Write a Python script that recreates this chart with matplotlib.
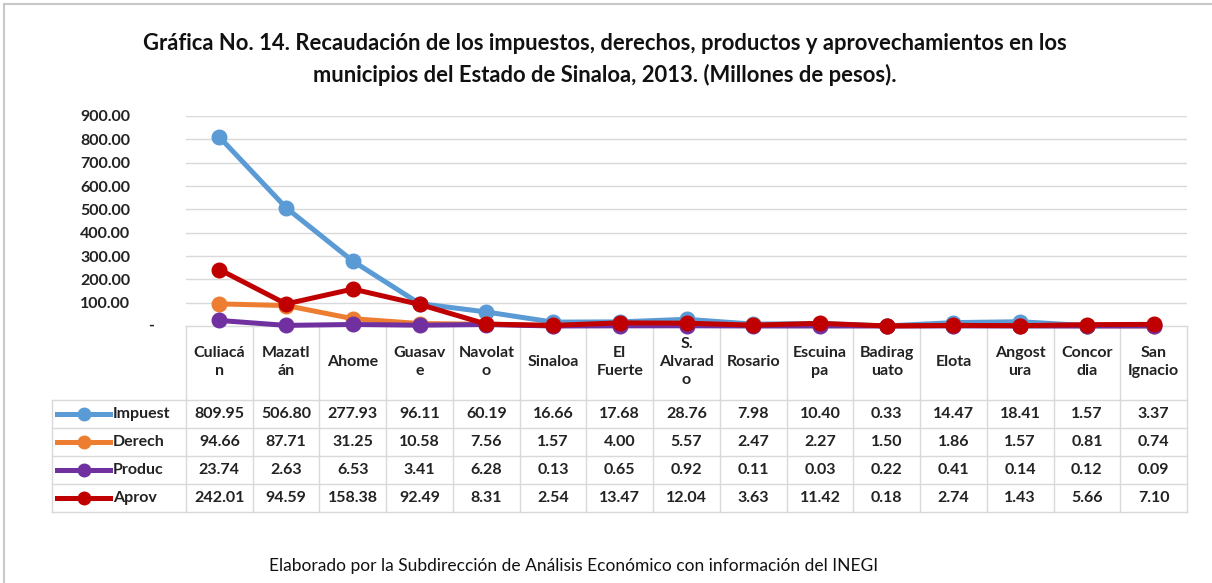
import matplotlib.pyplot as plt
import matplotlib.transforms as mtransforms

# datos
municipios = ['Culiacá\nn', 'Mazatl\nán', 'Ahome', 'Guasav\ne', 'Navolat\no', 'Sinaloa',
              'El\nFuerte', 'S.\nAlvarad\no', 'Rosario', 'Escuina\npa', 'Badirag\nuato',
              'Elota', 'Angost\nura', 'Concor\ndia', 'San\nIgnacio']
impuestos = [809.95, 506.80, 277.93, 96.11, 60.19, 16.66, 17.68, 28.76, 7.98, 10.40, 0.33, 14.47, 18.41, 1.57, 3.37]
derechos = [94.66, 87.71, 31.25, 10.58, 7.56, 1.57, 4.00, 5.57, 2.47, 2.27, 1.50, 1.86, 1.57, 0.81, 0.74]
productos = [23.74, 2.63, 6.53, 3.41, 6.28, 0.13, 0.65, 0.92, 0.11, 0.03, 0.22, 0.41, 0.14, 0.12, 0.09]
aprovech = [242.01, 94.59, 158.38, 92.49, 8.31, 2.54, 13.47, 12.04, 3.63, 11.42, 0.18, 2.74, 1.43, 5.66, 7.10]
series = ['Impuest', 'Derech', 'Produc', 'Aprov']
colores = ['#5B9BD5', '#ED7D31', '#7030A0', '#C00000']
valores = [impuestos, derechos, productos, aprovech]

plt.rcParams['font.family'] = ['Lato', 'DejaVu Sans']

W, H = 1212, 583
fig = plt.figure(figsize=(W / 100, H / 100), dpi=100)
fig.patch.set_facecolor('white')

# area del grafico (pixeles)
x0, x1 = 186, 1187
ytop, ybot = 116, 326
ax = fig.add_axes([x0 / W, 1 - ybot / H, (x1 - x0) / W, (ybot - ytop) / H])
n = len(municipios)
xs = [i + 0.5 for i in range(n)]
for vals, c in zip(valores, colores):
    ax.plot(xs, vals, color=c, lw=3.6, marker='o', ms=10.5, zorder=3, clip_on=False)
ax.set_xlim(0, n)
ax.set_ylim(0, 900)
ax.set_yticks(range(0, 901, 100))
ax.set_yticklabels(['' if v == 0 else f'{v:.2f}' for v in range(0, 901, 100)],
                   fontsize=11.5, fontweight='bold', color='#222222')
ax.tick_params(axis='y', length=0, pad=40)
# el cero se muestra como "-" (formato contable)
trans = mtransforms.blended_transform_factory(ax.transAxes, ax.transData)
ax.text(-0.035, 0, '-', transform=trans, ha='center', va='center',
        fontsize=11.5, fontweight='bold', color='#222222')
ax.set_xticks([])
ax.grid(axis='y', color='#D9D9D9', lw=1)
for s in ax.spines.values():
    s.set_visible(False)
ax.set_axisbelow(True)

# tabla de datos en coordenadas de pixeles
tax = fig.add_axes([0, 0, 1, 1], zorder=-1)
tax.set_xlim(0, W)
tax.set_ylim(H, 0)
tax.axis('off')
cw = (x1 - x0) / n
lc = '#D9D9D9'
hdr_bot = 400
rh = 28
tx0 = 52
rows_bot = hdr_bot + rh * len(series)

# lineas
tax.plot([x0, x1], [ybot, ybot], color=lc, lw=1)
for i in range(n + 1):
    tax.plot([x0 + i * cw] * 2, [ybot, rows_bot], color=lc, lw=1)
for r in range(len(series) + 1):
    tax.plot([tx0, x1], [hdr_bot + r * rh] * 2, color=lc, lw=1)
tax.plot([tx0, tx0], [hdr_bot, rows_bot], color=lc, lw=1)

# encabezados
for i, m in enumerate(municipios):
    tax.text(x0 + (i + 0.5) * cw, (ybot + hdr_bot) / 2 - 1, m, ha='center', va='center',
             fontsize=11.5, fontweight='bold', color='#222222', linespacing=1.4)

# filas
for r, (nom, c, vals) in enumerate(zip(series, colores, valores)):
    yc = hdr_bot + (r + 0.5) * rh
    tax.plot([57, 110], [yc, yc], color=c, lw=3.6)
    tax.plot([83.5], [yc], marker='o', color=c, ms=9)
    tax.text(113, yc, nom, ha='left', va='center', fontsize=11.5, fontweight='bold', color='#222222')
    for i, v in enumerate(vals):
        tax.text(x0 + (i + 0.5) * cw, yc, f'{v:.2f}', ha='center', va='center',
                 fontsize=11.5, fontweight='bold', color='#222222')

# marco exterior
tax.plot([4, 4], [4, H], color='#C8C8C8', lw=1.5)
tax.plot([4, W], [4, 4], color='#C8C8C8', lw=1.5)

fig.text(605 / W, 1 - 44 / H, 'Gráfica No. 14. Recaudación de los impuestos, derechos, productos y aprovechamientos en los',
         ha='center', va='center', fontsize=15.8, fontweight='bold', color='#111111')
fig.text(605 / W, 1 - 75 / H, 'municipios del Estado de Sinaloa, 2013. (Millones de pesos).',
         ha='center', va='center', fontsize=15.8, fontweight='bold', color='#111111')
fig.text(574 / W, 1 - 566 / H, 'Elaborado por la Subdirección de Análisis Económico con información del INEGI',
         ha='center', va='center', fontsize=12.5, color='#111111')

fig.savefig('out.png', dpi=100)
